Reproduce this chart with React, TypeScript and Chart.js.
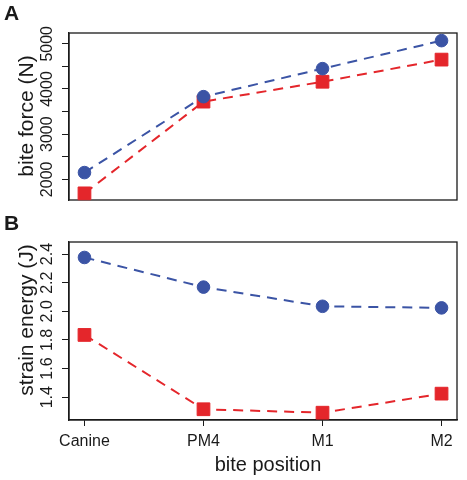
import React, { useEffect, useRef } from 'react';
import { Chart, registerables } from 'chart.js';
Chart.register(...registerables);

const categories = ['Canine', 'PM4', 'M1', 'M2'];
const biteForceBlue = [2150, 3830, 4450, 5070];
const biteForceRed = [1690, 3720, 4160, 4650];
const strainBlue = [2.376, 2.169, 2.035, 2.024];
const strainRed = [1.835, 1.316, 1.292, 1.425];
const forceTicks = [2000, 2500, 3000, 3500, 4000, 4500, 5000];
const forceTickLabels = ['2000', '', '3000', '', '4000', '', '5000'];
const energyTicks = [1.4, 1.6, 1.8, 2.0, 2.2, 2.4];
const energyTickLabels = ['1.4', '1.6', '1.8', '2.0', '2.2', '2.4'];

const BLUE = '#3b54a5';
const RED = '#e4262b';
const INK = '#1a1a1a';
const FAMILY = '"Liberation Sans", Arial, Helvetica, sans-serif';

function toPoints(values: number[]) {
  return values.map((v, i) => ({ x: i, y: v }));
}

function makeDataset(values: number[], color: string, style: string, radius: number) {
  return {
    data: toPoints(values),
    borderColor: color,
    backgroundColor: color,
    borderWidth: 2,
    borderDash: [10, 7],
    pointStyle: style,
    pointRadius: radius,
    pointBorderWidth: 1,
    pointBorderColor: color,
    pointBackgroundColor: color,
    clip: false as const,
    tension: 0,
  };
}

function panelPlugin(letter: string, yTitle: string, titleCenterY: number, tickValues: number[], tickLabels: string[], xTitle?: string) {
  return {
    id: 'panel' + letter,
    beforeDatasetsDraw(chart: any) {
      const { ctx, chartArea: a } = chart;
      ctx.save();
      ctx.strokeStyle = INK;
      ctx.lineWidth = 1.3;
      ctx.strokeRect(a.left, a.top, a.right - a.left, a.bottom - a.top);
      ctx.restore();
    },
    afterDraw(chart: any) {
      const { ctx } = chart;
      const ys = chart.scales.y;
      ctx.save();
      ctx.fillStyle = INK;
      ctx.font = `bold 21px ${FAMILY}`;
      ctx.textAlign = 'left';
      ctx.textBaseline = 'alphabetic';
      ctx.fillText(letter, 4, 20);

      ctx.font = `16px ${FAMILY}`;
      ctx.textAlign = 'center';
      ctx.textBaseline = 'middle';
      tickValues.forEach((v, i) => {
        if (!tickLabels[i]) return;
        const py = ys.getPixelForValue(v);
        ctx.save();
        ctx.translate(47.5, py);
        ctx.rotate(-Math.PI / 2);
        ctx.fillText(tickLabels[i], 0, 0);
        ctx.restore();
      });

      ctx.font = `21px ${FAMILY}`;
      ctx.save();
      ctx.translate(27, titleCenterY);
      ctx.rotate(-Math.PI / 2);
      ctx.fillText(yTitle, 0, 0);
      ctx.restore();

      if (xTitle) {
        ctx.font = `20px ${FAMILY}`;
        ctx.textAlign = 'center';
        ctx.textBaseline = 'alphabetic';
        ctx.fillText(xTitle, 268, 261);
      }
      ctx.restore();
    },
  };
}

function Panel(props: {
  height: number;
  blue: number[];
  red: number[];
  yMin: number;
  yMax: number;
  ticks: number[];
  tickLabels: string[];
  letter: string;
  yTitle: string;
  titleCenterY: number;
  showX: boolean;
  padTop: number;
}) {
  const ref = useRef<HTMLCanvasElement>(null);
  useEffect(() => {
    const canvas = ref.current!;
    const chart = new Chart(canvas, {
      type: 'line',
      data: {
        datasets: [
          makeDataset(props.blue, BLUE, 'circle', 6.3) as any,
          makeDataset(props.red, RED, 'rect', 9) as any,
        ],
      },
      options: {
        responsive: false,
        animation: false,
        layout: { padding: { top: props.padTop, right: 5, bottom: props.showX ? 0 : 4, left: 0 } },
        plugins: { legend: { display: false }, tooltip: { enabled: false } },
        scales: {
          x: {
            type: 'linear',
            display: props.showX,
            min: -0.13,
            max: 3.13,
            afterBuildTicks: (s: any) => {
              s.ticks = categories.map((_, i) => ({ value: i }));
            },
            afterFit: (s: any) => {
              s.height = props.showX ? 60 : 0;
            },
            ticks: {
              callback: (v: any) => categories[Math.round(Number(v))] ?? '',
              color: INK,
              font: { family: FAMILY, size: 16 },
              padding: 6,
              maxRotation: 0,
              autoSkip: false,
            },
            grid: { drawOnChartArea: false, drawTicks: true, tickLength: 6, color: INK, tickWidth: 1 },
            border: { display: true, color: INK, width: 1.3 },
          },
          y: {
            type: 'linear',
            min: props.yMin,
            max: props.yMax,
            afterBuildTicks: (s: any) => {
              s.ticks = props.ticks.map((v) => ({ value: v }));
            },
            afterFit: (s: any) => {
              s.width = 69;
            },
            ticks: { display: false },
            grid: { drawOnChartArea: false, drawTicks: true, tickLength: 7, color: INK, tickWidth: 1 },
            border: { display: true, color: INK, width: 1.3 },
          },
        },
      },
      plugins: [
        panelPlugin(props.letter, props.yTitle, props.titleCenterY, props.ticks, props.tickLabels, props.showX ? 'bite position' : undefined),
      ],
    } as any);
    return () => chart.destroy();
  }, []);
  return <canvas ref={ref} width={467} height={props.height} style={{ display: 'block' }} />;
}

export default function App() {
  return (
    <div style={{ position: 'absolute', left: 0, top: 0, width: 467, height: 480, background: '#fff' }}>
      <div style={{ position: 'absolute', left: 0, top: 0 }}>
        <Panel
          height={210}
          blue={biteForceBlue}
          red={biteForceRed}
          yMin={1543}
          yMax={5239}
          ticks={forceTicks}
          tickLabels={forceTickLabels}
          letter="A"
          yTitle="bite force (N)"
          titleCenterY={116}
          showX={false}
          padTop={33}
        />
      </div>
      <div style={{ position: 'absolute', left: 0, top: 210 }}>
        <Panel
          height={270}
          blue={strainBlue}
          red={strainRed}
          yMin={1.241}
          yMax={2.484}
          ticks={energyTicks}
          tickLabels={energyTickLabels}
          letter="B"
          yTitle="strain energy (J)"
          titleCenterY={110}
          showX={true}
          padTop={32}
        />
      </div>
    </div>
  );
}
